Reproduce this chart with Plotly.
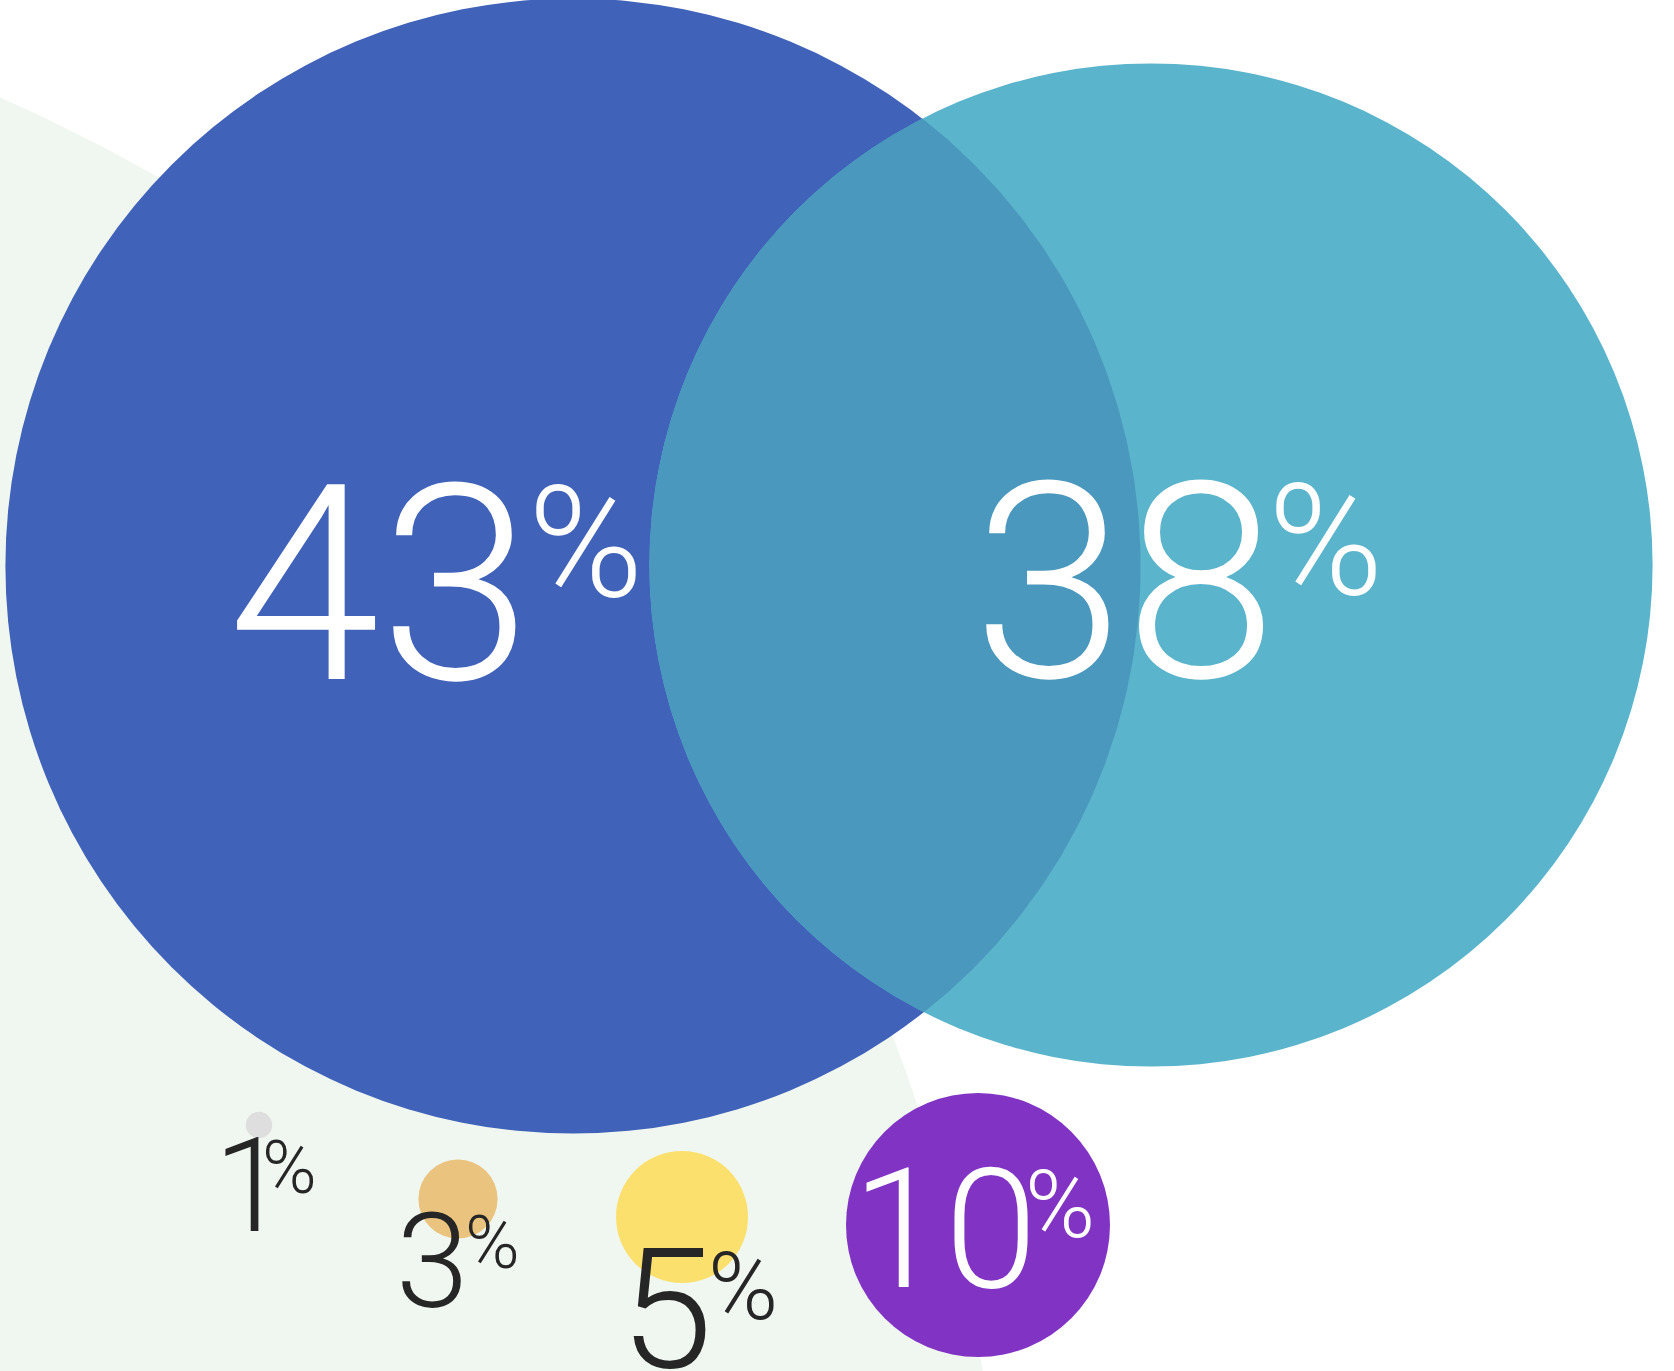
import numpy as np
import plotly.graph_objects as go

# ---------------- data ----------------
labels = ["43", "38", "10", "5", "3", "1"]
values = [43, 38, 10, 5, 3, 1]

# ---------------- styles / layout ----------------
colors = ["#4062B9", "#5AB4CB", "#8134C3", "#FCE06E", "#EAC47E", "#DEDEDE"]
overlap_color = "#4A98BD"
bg_color = "#F0F7F0"
W, H = 1674, 1371
PX_PER_PCT = 26.4  # bubble diameter (px) per percentage point

centers_x = [573, 1151, 978, 682, 458, 259]
centers_y = [566, 565, 1225, 1217, 1199, 1125]

num_x = [380, 1125, 944, 666, 432, 250]
num_y = [585, 583, 1230, 1310, 1262, 1186]
num_size = [274, 274, 167, 167, 131, 131]
pct_x = [526, 1266, 1023, 706, 463, 260]
pct_y = [542, 540, 1204, 1286, 1242, 1167]
pct_size = [156, 156, 95, 95, 74, 74]
text_colors = ["#FFFFFF", "#FFFFFF", "#FFFFFF", "#262626", "#262626", "#262626"]
FONT = "Roboto Light, Roboto"

fig = go.Figure()

# big decorative background circle
bg_cx, bg_cy, bg_r = -680, 1638, 1684
fig.add_shape(type="circle", xref="x", yref="y",
              x0=bg_cx - bg_r, x1=bg_cx + bg_r, y0=bg_cy - bg_r, y1=bg_cy + bg_r,
              fillcolor=bg_color, line=dict(width=0), layer="below")

# the two large bubbles
for i in range(2):
    fig.add_trace(go.Scatter(
        x=[centers_x[i]], y=[centers_y[i]], mode="markers",
        marker=dict(size=[values[i]], sizemode="diameter", sizeref=1 / PX_PER_PCT,
                    color=colors[i], line=dict(width=0), opacity=1),
        hoverinfo="skip", showlegend=False))

# overlap lens of the two large bubbles
r1 = values[0] * PX_PER_PCT / 2
r2 = values[1] * PX_PER_PCT / 2
c1 = np.array([centers_x[0], centers_y[0]], float)
c2 = np.array([centers_x[1], centers_y[1]], float)
d = np.linalg.norm(c2 - c1)
ang = np.arctan2(*(c2 - c1)[::-1])
a1 = np.arccos((d**2 + r1**2 - r2**2) / (2 * d * r1))
a2 = np.arccos((d**2 + r2**2 - r1**2) / (2 * d * r2))
t1 = np.linspace(ang - a1, ang + a1, 200)
t2 = np.linspace(ang + np.pi - a2, ang + np.pi + a2, 200)
lx = np.concatenate([c1[0] + r1 * np.cos(t1), c2[0] + r2 * np.cos(t2)])
ly = np.concatenate([c1[1] + r1 * np.sin(t1), c2[1] + r2 * np.sin(t2)])
fig.add_trace(go.Scatter(x=lx, y=ly, mode="lines", fill="toself",
                         fillcolor=overlap_color, line=dict(width=0),
                         hoverinfo="skip", showlegend=False))

# the small bubbles
fig.add_trace(go.Scatter(
    x=centers_x[2:], y=centers_y[2:], mode="markers",
    marker=dict(size=values[2:], sizemode="diameter", sizeref=1 / PX_PER_PCT,
                color=colors[2:], line=dict(width=0), opacity=1),
    hoverinfo="skip", showlegend=False))

# labels
for i, lab in enumerate(labels):
    fig.add_annotation(x=num_x[i], y=num_y[i], xref="x", yref="y", text=lab,
                       showarrow=False, xanchor="center", yanchor="middle",
                       font=dict(family=FONT, size=num_size[i], color=text_colors[i], weight=300))
    fig.add_annotation(x=pct_x[i], y=pct_y[i], xref="x", yref="y", text="%",
                       showarrow=False, xanchor="left", yanchor="middle",
                       font=dict(family=FONT, size=pct_size[i], color=text_colors[i], weight=300))

fig.update_layout(
    width=W, height=H, margin=dict(l=0, r=0, t=0, b=0),
    paper_bgcolor="white", plot_bgcolor="white",
    xaxis=dict(range=[0, W], visible=False, fixedrange=True),
    yaxis=dict(range=[H, 0], visible=False, fixedrange=True),
)

fig.write_html("out.html", config={"displayModeBar": False},
               post_script="document.body.style.margin='0px';")
